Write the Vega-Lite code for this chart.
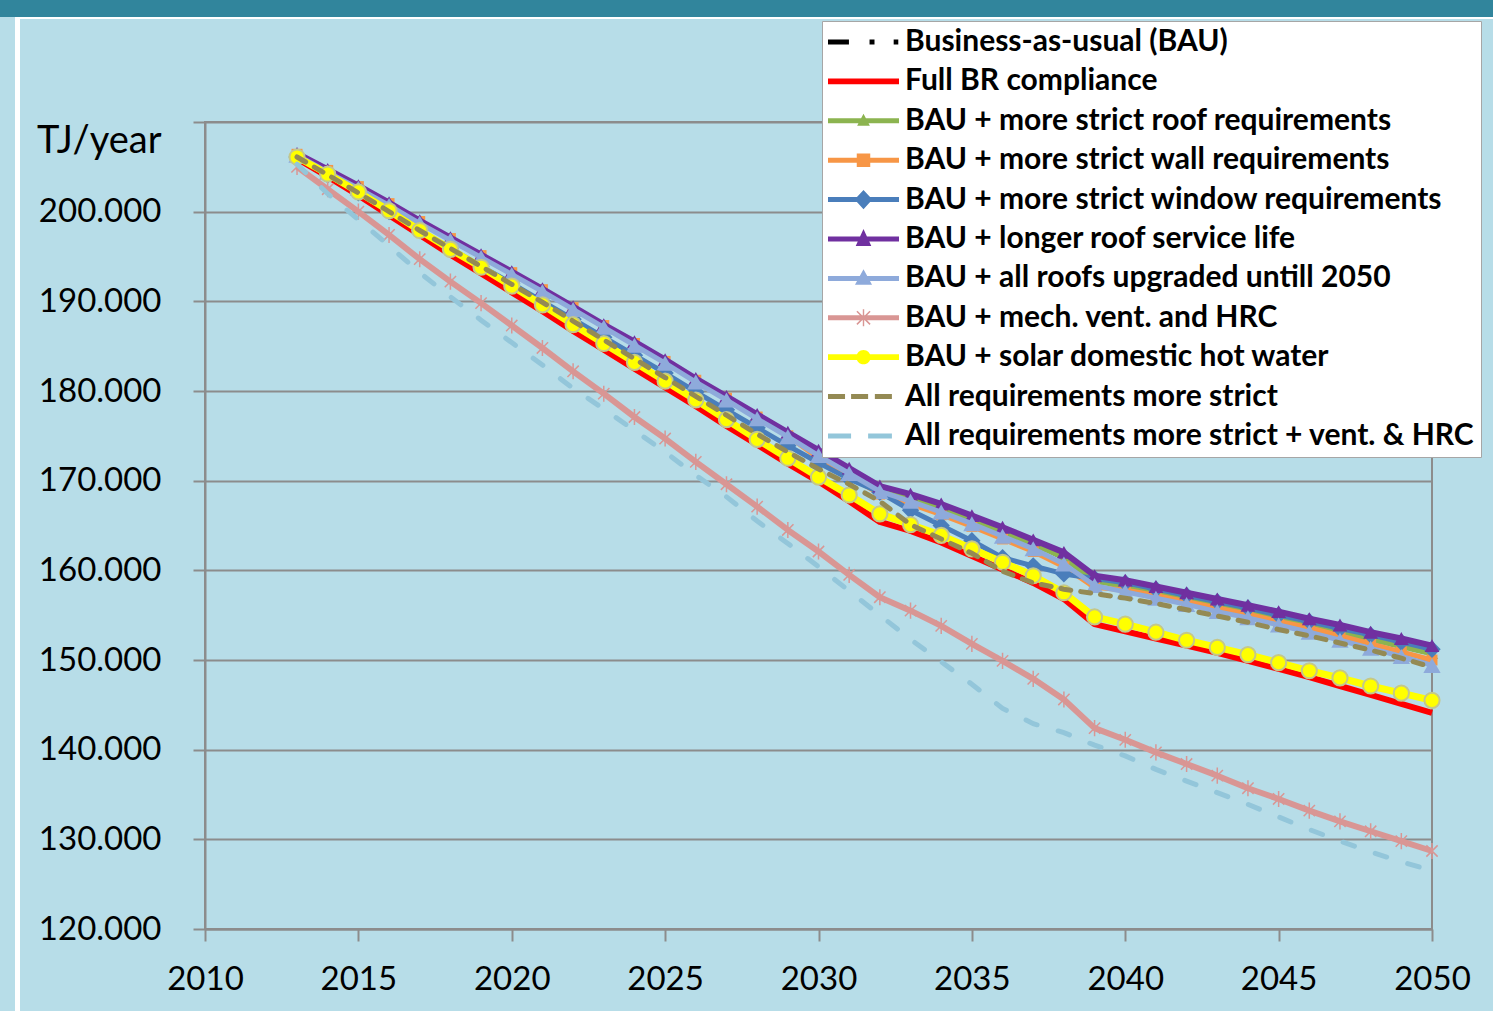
{
  "$schema": "https://vega.github.io/schema/vega-lite/v6.json",
  "background": "#b7dde8",
  "padding": 0,
  "spacing": 0,
  "bounds": "full",
  "resolve": {"scale": {"color": "independent", "fill": "independent", "shape": "independent"}, "legend": {"color": "independent", "fill": "independent", "shape": "independent"}},
  "config": {
    "view": {"stroke": null},
    "locale": {"number": {"decimal": ",", "thousands": ".", "grouping": [3], "currency": ["", " €"]}},
    "font": "Lato",
    "axis": {
      "domainColor": "#8c8c8c", "domainWidth": 2,
      "tickColor": "#8c8c8c", "tickWidth": 2, "tickSize": 12,
      "gridColor": "#8c8c8c", "gridWidth": 2, "gridOpacity": 1,
      "labelFont": "Lato", "labelFontSize": 33, "labelColor": "black", "labelFontWeight": "normal"
    }
  },
  "hconcat": [
    {"width": 15, "height": 1011, "data": {"values": []}, "mark": "point",
     "view": {"stroke": null, "fill": {"gradient": "linear", "x1": 0, "y1": 0, "x2": 0, "y2": 1, "stops": [{"offset": 0, "color": "#31859c"}, {"offset": 0.0168, "color": "#31859c"}, {"offset": 0.0169, "color": "#b7dde8"}, {"offset": 1, "color": "#b7dde8"}]}}},
    {"width": 5, "height": 1011, "data": {"values": []}, "mark": "point",
     "view": {"stroke": null, "fill": {"gradient": "linear", "x1": 0, "y1": 0, "x2": 0, "y2": 1, "stops": [{"offset": 0, "color": "#31859c"}, {"offset": 0.0168, "color": "#31859c"}, {"offset": 0.0169, "color": "#ffffff"}, {"offset": 1, "color": "#ffffff"}]}}},
    {
      "spacing": 0,
      "bounds": "full",
      "resolve": {"scale": {"color": "independent", "fill": "independent", "shape": "independent"}, "legend": {"color": "independent", "fill": "independent", "shape": "independent"}},
      "vconcat": [
        {"width": 1473, "height": 17, "view": {"fill": "#31859c", "stroke": null}, "data": {"values": []}, "mark": "point"},
        {"width": 1473, "height": 2, "view": {"fill": "#ffffff", "stroke": null}, "data": {"values": []}, "mark": "point"},
        {
          "spacing": 0,
          "bounds": "full",
          "resolve": {"scale": {"color": "independent", "fill": "independent", "shape": "independent"}, "legend": {"color": "independent", "fill": "independent", "shape": "independent"}},
          "hconcat": [
            {"width": 15, "height": 10, "data": {"values": []}, "mark": "point"},
            {
              "width": 1227,
              "height": 807,
              "view": {"stroke": "#8c8c8c", "strokeWidth": 2},
              "data": {"values": [
{"s":"BAU","x":2013,"v":206400},{"s":"BAU","x":2014,"v":204500},{"s":"BAU","x":2015,"v":202700},{"s":"BAU","x":2016,"v":200800},{"s":"BAU","x":2017,"v":198800},{"s":"BAU","x":2018,"v":196900},{"s":"BAU","x":2019,"v":195000},{"s":"BAU","x":2020,"v":193100},{"s":"BAU","x":2021,"v":191200},{"s":"BAU","x":2022,"v":189200},{"s":"BAU","x":2023,"v":187200},{"s":"BAU","x":2024,"v":185300},{"s":"BAU","x":2025,"v":183300},{"s":"BAU","x":2026,"v":181200},{"s":"BAU","x":2027,"v":179200},{"s":"BAU","x":2028,"v":177200},{"s":"BAU","x":2029,"v":175100},{"s":"BAU","x":2030,"v":173100},{"s":"BAU","x":2031,"v":171100},{"s":"BAU","x":2032,"v":169100},{"s":"BAU","x":2033,"v":168100},{"s":"BAU","x":2034,"v":166900},{"s":"BAU","x":2035,"v":165600},{"s":"BAU","x":2036,"v":164300},{"s":"BAU","x":2037,"v":162900},{"s":"BAU","x":2038,"v":161400},{"s":"BAU","x":2039,"v":158800},{"s":"BAU","x":2040,"v":158200},{"s":"BAU","x":2041,"v":157500},{"s":"BAU","x":2042,"v":156800},{"s":"BAU","x":2043,"v":156100},{"s":"BAU","x":2044,"v":155400},{"s":"BAU","x":2045,"v":154600},{"s":"BAU","x":2046,"v":153900},{"s":"BAU","x":2047,"v":153100},{"s":"BAU","x":2048,"v":152300},{"s":"BAU","x":2049,"v":151500},{"s":"BAU","x":2050,"v":150700},
{"s":"R","x":2013,"v":205900},{"s":"R","x":2014,"v":203900},{"s":"R","x":2015,"v":201800},{"s":"R","x":2016,"v":199600},{"s":"R","x":2017,"v":197400},{"s":"R","x":2018,"v":195200},{"s":"R","x":2019,"v":193100},{"s":"R","x":2020,"v":191000},{"s":"R","x":2021,"v":188900},{"s":"R","x":2022,"v":186700},{"s":"R","x":2023,"v":184600},{"s":"R","x":2024,"v":182500},{"s":"R","x":2025,"v":180400},{"s":"R","x":2026,"v":178300},{"s":"R","x":2027,"v":176100},{"s":"R","x":2028,"v":174000},{"s":"R","x":2029,"v":171900},{"s":"R","x":2030,"v":169900},{"s":"R","x":2031,"v":167700},{"s":"R","x":2032,"v":165400},{"s":"R","x":2033,"v":164400},{"s":"R","x":2034,"v":163100},{"s":"R","x":2035,"v":161600},{"s":"R","x":2036,"v":160100},{"s":"R","x":2037,"v":158600},{"s":"R","x":2038,"v":156800},{"s":"R","x":2039,"v":154000},{"s":"R","x":2040,"v":153200},{"s":"R","x":2041,"v":152400},{"s":"R","x":2042,"v":151600},{"s":"R","x":2043,"v":150800},{"s":"R","x":2044,"v":149900},{"s":"R","x":2045,"v":149000},{"s":"R","x":2046,"v":148100},{"s":"R","x":2047,"v":147100},{"s":"R","x":2048,"v":146100},{"s":"R","x":2049,"v":145100},{"s":"R","x":2050,"v":144100},
{"s":"RF","x":2013,"v":206400},{"s":"RF","x":2014,"v":204500},{"s":"RF","x":2015,"v":202700},{"s":"RF","x":2016,"v":200800},{"s":"RF","x":2017,"v":198800},{"s":"RF","x":2018,"v":196900},{"s":"RF","x":2019,"v":195000},{"s":"RF","x":2020,"v":193100},{"s":"RF","x":2021,"v":191200},{"s":"RF","x":2022,"v":189200},{"s":"RF","x":2023,"v":187200},{"s":"RF","x":2024,"v":185300},{"s":"RF","x":2025,"v":183300},{"s":"RF","x":2026,"v":181200},{"s":"RF","x":2027,"v":179200},{"s":"RF","x":2028,"v":177200},{"s":"RF","x":2029,"v":175100},{"s":"RF","x":2030,"v":173100},{"s":"RF","x":2031,"v":171100},{"s":"RF","x":2032,"v":169100},{"s":"RF","x":2033,"v":168100},{"s":"RF","x":2034,"v":166900},{"s":"RF","x":2035,"v":165600},{"s":"RF","x":2036,"v":164300},{"s":"RF","x":2037,"v":162900},{"s":"RF","x":2038,"v":161400},{"s":"RF","x":2039,"v":158800},{"s":"RF","x":2040,"v":158200},{"s":"RF","x":2041,"v":157500},{"s":"RF","x":2042,"v":156800},{"s":"RF","x":2043,"v":156100},{"s":"RF","x":2044,"v":155400},{"s":"RF","x":2045,"v":154600},{"s":"RF","x":2046,"v":153900},{"s":"RF","x":2047,"v":153100},{"s":"RF","x":2048,"v":152300},{"s":"RF","x":2049,"v":151500},{"s":"RF","x":2050,"v":150700},
{"s":"W","x":2013,"v":206400},{"s":"W","x":2014,"v":204600},{"s":"W","x":2015,"v":202800},{"s":"W","x":2016,"v":200900},{"s":"W","x":2017,"v":198900},{"s":"W","x":2018,"v":197000},{"s":"W","x":2019,"v":195100},{"s":"W","x":2020,"v":193200},{"s":"W","x":2021,"v":191300},{"s":"W","x":2022,"v":189300},{"s":"W","x":2023,"v":187300},{"s":"W","x":2024,"v":185300},{"s":"W","x":2025,"v":183300},{"s":"W","x":2026,"v":181200},{"s":"W","x":2027,"v":179200},{"s":"W","x":2028,"v":177100},{"s":"W","x":2029,"v":175000},{"s":"W","x":2030,"v":172500},{"s":"W","x":2031,"v":170500},{"s":"W","x":2032,"v":168500},{"s":"W","x":2033,"v":167400},{"s":"W","x":2034,"v":166200},{"s":"W","x":2035,"v":164900},{"s":"W","x":2036,"v":163500},{"s":"W","x":2037,"v":162100},{"s":"W","x":2038,"v":160400},{"s":"W","x":2039,"v":158100},{"s":"W","x":2040,"v":157800},{"s":"W","x":2041,"v":157200},{"s":"W","x":2042,"v":156500},{"s":"W","x":2043,"v":155800},{"s":"W","x":2044,"v":155100},{"s":"W","x":2045,"v":154300},{"s":"W","x":2046,"v":153600},{"s":"W","x":2047,"v":152700},{"s":"W","x":2048,"v":151800},{"s":"W","x":2049,"v":150900},{"s":"W","x":2050,"v":150000},
{"s":"WI","x":2013,"v":206100},{"s":"WI","x":2014,"v":204100},{"s":"WI","x":2015,"v":202100},{"s":"WI","x":2016,"v":200000},{"s":"WI","x":2017,"v":197900},{"s":"WI","x":2018,"v":195900},{"s":"WI","x":2019,"v":193900},{"s":"WI","x":2020,"v":192000},{"s":"WI","x":2021,"v":190000},{"s":"WI","x":2022,"v":188000},{"s":"WI","x":2023,"v":186000},{"s":"WI","x":2024,"v":184000},{"s":"WI","x":2025,"v":182000},{"s":"WI","x":2026,"v":179900},{"s":"WI","x":2027,"v":177900},{"s":"WI","x":2028,"v":175900},{"s":"WI","x":2029,"v":173900},{"s":"WI","x":2030,"v":172000},{"s":"WI","x":2031,"v":170200},{"s":"WI","x":2032,"v":168700},{"s":"WI","x":2033,"v":166700},{"s":"WI","x":2034,"v":165000},{"s":"WI","x":2035,"v":163300},{"s":"WI","x":2036,"v":161400},{"s":"WI","x":2037,"v":160500},{"s":"WI","x":2038,"v":159600},{"s":"WI","x":2039,"v":159100},{"s":"WI","x":2040,"v":158600},{"s":"WI","x":2041,"v":157900},{"s":"WI","x":2042,"v":157200},{"s":"WI","x":2043,"v":156500},{"s":"WI","x":2044,"v":155800},{"s":"WI","x":2045,"v":155000},{"s":"WI","x":2046,"v":154300},{"s":"WI","x":2047,"v":153500},{"s":"WI","x":2048,"v":152800},{"s":"WI","x":2049,"v":152000},{"s":"WI","x":2050,"v":151200},
{"s":"P","x":2013,"v":206500},{"s":"P","x":2014,"v":204700},{"s":"P","x":2015,"v":202900},{"s":"P","x":2016,"v":201000},{"s":"P","x":2017,"v":199000},{"s":"P","x":2018,"v":197100},{"s":"P","x":2019,"v":195200},{"s":"P","x":2020,"v":193300},{"s":"P","x":2021,"v":191400},{"s":"P","x":2022,"v":189400},{"s":"P","x":2023,"v":187400},{"s":"P","x":2024,"v":185500},{"s":"P","x":2025,"v":183500},{"s":"P","x":2026,"v":181400},{"s":"P","x":2027,"v":179400},{"s":"P","x":2028,"v":177400},{"s":"P","x":2029,"v":175400},{"s":"P","x":2030,"v":173400},{"s":"P","x":2031,"v":171400},{"s":"P","x":2032,"v":169400},{"s":"P","x":2033,"v":168500},{"s":"P","x":2034,"v":167400},{"s":"P","x":2035,"v":166100},{"s":"P","x":2036,"v":164800},{"s":"P","x":2037,"v":163400},{"s":"P","x":2038,"v":162000},{"s":"P","x":2039,"v":159400},{"s":"P","x":2040,"v":158900},{"s":"P","x":2041,"v":158200},{"s":"P","x":2042,"v":157500},{"s":"P","x":2043,"v":156800},{"s":"P","x":2044,"v":156100},{"s":"P","x":2045,"v":155400},{"s":"P","x":2046,"v":154600},{"s":"P","x":2047,"v":153900},{"s":"P","x":2048,"v":153100},{"s":"P","x":2049,"v":152400},{"s":"P","x":2050,"v":151600},
{"s":"GB","x":2013,"v":206300},{"s":"GB","x":2014,"v":204400},{"s":"GB","x":2015,"v":202600},{"s":"GB","x":2016,"v":200700},{"s":"GB","x":2017,"v":198700},{"s":"GB","x":2018,"v":196800},{"s":"GB","x":2019,"v":194900},{"s":"GB","x":2020,"v":193000},{"s":"GB","x":2021,"v":191100},{"s":"GB","x":2022,"v":189100},{"s":"GB","x":2023,"v":187100},{"s":"GB","x":2024,"v":185100},{"s":"GB","x":2025,"v":183100},{"s":"GB","x":2026,"v":181000},{"s":"GB","x":2027,"v":179000},{"s":"GB","x":2028,"v":176900},{"s":"GB","x":2029,"v":174900},{"s":"GB","x":2030,"v":172800},{"s":"GB","x":2031,"v":170800},{"s":"GB","x":2032,"v":168800},{"s":"GB","x":2033,"v":167700},{"s":"GB","x":2034,"v":166500},{"s":"GB","x":2035,"v":165200},{"s":"GB","x":2036,"v":163800},{"s":"GB","x":2037,"v":162400},{"s":"GB","x":2038,"v":160700},{"s":"GB","x":2039,"v":158300},{"s":"GB","x":2040,"v":157600},{"s":"GB","x":2041,"v":156900},{"s":"GB","x":2042,"v":156200},{"s":"GB","x":2043,"v":155400},{"s":"GB","x":2044,"v":154700},{"s":"GB","x":2045,"v":153900},{"s":"GB","x":2046,"v":153100},{"s":"GB","x":2047,"v":152200},{"s":"GB","x":2048,"v":151300},{"s":"GB","x":2049,"v":150400},{"s":"GB","x":2050,"v":149400},
{"s":"M","x":2013,"v":205000},{"s":"M","x":2014,"v":202500},{"s":"M","x":2015,"v":200000},{"s":"M","x":2016,"v":197400},{"s":"M","x":2017,"v":194700},{"s":"M","x":2018,"v":192200},{"s":"M","x":2019,"v":189800},{"s":"M","x":2020,"v":187300},{"s":"M","x":2021,"v":184800},{"s":"M","x":2022,"v":182200},{"s":"M","x":2023,"v":179700},{"s":"M","x":2024,"v":177100},{"s":"M","x":2025,"v":174700},{"s":"M","x":2026,"v":172100},{"s":"M","x":2027,"v":169600},{"s":"M","x":2028,"v":167100},{"s":"M","x":2029,"v":164500},{"s":"M","x":2030,"v":162100},{"s":"M","x":2031,"v":159500},{"s":"M","x":2032,"v":157000},{"s":"M","x":2033,"v":155500},{"s":"M","x":2034,"v":153800},{"s":"M","x":2035,"v":151800},{"s":"M","x":2036,"v":149900},{"s":"M","x":2037,"v":147900},{"s":"M","x":2038,"v":145600},{"s":"M","x":2039,"v":142400},{"s":"M","x":2040,"v":141100},{"s":"M","x":2041,"v":139700},{"s":"M","x":2042,"v":138400},{"s":"M","x":2043,"v":137100},{"s":"M","x":2044,"v":135700},{"s":"M","x":2045,"v":134500},{"s":"M","x":2046,"v":133200},{"s":"M","x":2047,"v":132000},{"s":"M","x":2048,"v":130900},{"s":"M","x":2049,"v":129800},{"s":"M","x":2050,"v":128700},
{"s":"Y","x":2013,"v":206100},{"s":"Y","x":2014,"v":204200},{"s":"Y","x":2015,"v":202200},{"s":"Y","x":2016,"v":200100},{"s":"Y","x":2017,"v":197900},{"s":"Y","x":2018,"v":195800},{"s":"Y","x":2019,"v":193800},{"s":"Y","x":2020,"v":191700},{"s":"Y","x":2021,"v":189600},{"s":"Y","x":2022,"v":187400},{"s":"Y","x":2023,"v":185300},{"s":"Y","x":2024,"v":183200},{"s":"Y","x":2025,"v":181100},{"s":"Y","x":2026,"v":179000},{"s":"Y","x":2027,"v":176800},{"s":"Y","x":2028,"v":174600},{"s":"Y","x":2029,"v":172500},{"s":"Y","x":2030,"v":170400},{"s":"Y","x":2031,"v":168400},{"s":"Y","x":2032,"v":166300},{"s":"Y","x":2033,"v":165100},{"s":"Y","x":2034,"v":163900},{"s":"Y","x":2035,"v":162400},{"s":"Y","x":2036,"v":160900},{"s":"Y","x":2037,"v":159400},{"s":"Y","x":2038,"v":157500},{"s":"Y","x":2039,"v":154800},{"s":"Y","x":2040,"v":154000},{"s":"Y","x":2041,"v":153100},{"s":"Y","x":2042,"v":152200},{"s":"Y","x":2043,"v":151400},{"s":"Y","x":2044,"v":150600},{"s":"Y","x":2045,"v":149700},{"s":"Y","x":2046,"v":148800},{"s":"Y","x":2047,"v":148000},{"s":"Y","x":2048,"v":147100},{"s":"Y","x":2049,"v":146300},{"s":"Y","x":2050,"v":145500},
{"s":"O","x":2013,"v":206100},{"s":"O","x":2014,"v":204100},{"s":"O","x":2015,"v":202100},{"s":"O","x":2016,"v":200000},{"s":"O","x":2017,"v":197900},{"s":"O","x":2018,"v":195900},{"s":"O","x":2019,"v":193900},{"s":"O","x":2020,"v":191900},{"s":"O","x":2021,"v":189900},{"s":"O","x":2022,"v":187800},{"s":"O","x":2023,"v":185700},{"s":"O","x":2024,"v":183600},{"s":"O","x":2025,"v":181500},{"s":"O","x":2026,"v":179400},{"s":"O","x":2027,"v":177300},{"s":"O","x":2028,"v":175200},{"s":"O","x":2029,"v":173200},{"s":"O","x":2030,"v":171300},{"s":"O","x":2031,"v":169600},{"s":"O","x":2032,"v":167700},{"s":"O","x":2033,"v":165100},{"s":"O","x":2034,"v":163500},{"s":"O","x":2035,"v":161900},{"s":"O","x":2036,"v":159900},{"s":"O","x":2037,"v":158600},{"s":"O","x":2038,"v":157900},{"s":"O","x":2039,"v":157400},{"s":"O","x":2040,"v":156900},{"s":"O","x":2041,"v":156300},{"s":"O","x":2042,"v":155600},{"s":"O","x":2043,"v":154900},{"s":"O","x":2044,"v":154200},{"s":"O","x":2045,"v":153400},{"s":"O","x":2046,"v":152700},{"s":"O","x":2047,"v":151900},{"s":"O","x":2048,"v":151100},{"s":"O","x":2049,"v":150200},{"s":"O","x":2050,"v":149200},
{"s":"L","x":2013,"v":205300},{"s":"L","x":2014,"v":202000},{"s":"L","x":2015,"v":199100},{"s":"L","x":2016,"v":196200},{"s":"L","x":2017,"v":193200},{"s":"L","x":2018,"v":190500},{"s":"L","x":2019,"v":187900},{"s":"L","x":2020,"v":185400},{"s":"L","x":2021,"v":182900},{"s":"L","x":2022,"v":180300},{"s":"L","x":2023,"v":178000},{"s":"L","x":2024,"v":175600},{"s":"L","x":2025,"v":173200},{"s":"L","x":2026,"v":170600},{"s":"L","x":2027,"v":168200},{"s":"L","x":2028,"v":165500},{"s":"L","x":2029,"v":163000},{"s":"L","x":2030,"v":160400},{"s":"L","x":2031,"v":157700},{"s":"L","x":2032,"v":155000},{"s":"L","x":2033,"v":152300},{"s":"L","x":2034,"v":149800},{"s":"L","x":2035,"v":147300},{"s":"L","x":2036,"v":144600},{"s":"L","x":2037,"v":142900},{"s":"L","x":2038,"v":141900},{"s":"L","x":2039,"v":140500},{"s":"L","x":2040,"v":139300},{"s":"L","x":2041,"v":137800},{"s":"L","x":2042,"v":136500},{"s":"L","x":2043,"v":135200},{"s":"L","x":2044,"v":133900},{"s":"L","x":2045,"v":132500},{"s":"L","x":2046,"v":131100},{"s":"L","x":2047,"v":129800},{"s":"L","x":2048,"v":128600},{"s":"L","x":2049,"v":127500},{"s":"L","x":2050,"v":126500}
              ]},
              "transform": [
                {"lookup": "s", "from": {"data": {"values": [
                  {"s": "BAU", "name": "Business-as-usual (BAU)"},
                  {"s": "R", "name": "Full BR compliance"},
                  {"s": "RF", "name": "BAU + more strict roof requirements"},
                  {"s": "W", "name": "BAU + more strict wall requirements"},
                  {"s": "WI", "name": "BAU + more strict window requirements"},
                  {"s": "P", "name": "BAU + longer roof service life"},
                  {"s": "GB", "name": "BAU + all roofs upgraded untill 2050"},
                  {"s": "M", "name": "BAU + mech. vent. and HRC"},
                  {"s": "Y", "name": "BAU + solar domestic hot water"},
                  {"s": "O", "name": "All requirements more strict"},
                  {"s": "L", "name": "All requirements more strict + vent. & HRC"}
                ]}, "key": "s", "fields": ["name"]}}
              ],
              "encoding": {
                "x": {"field": "x", "type": "quantitative",
                  "scale": {"domain": [2010, 2050], "nice": false, "zero": false},
                  "axis": {"values": [2010, 2015, 2020, 2025, 2030, 2035, 2040, 2045, 2050], "format": "d", "grid": false, "title": null, "labelPadding": 22, "labelFlush": false, "labelOverlap": false}},
                "y": {"field": "v", "type": "quantitative",
                  "scale": {"domain": [120000, 210000], "nice": false, "zero": false},
                  "axis": {"values": [120000, 130000, 140000, 150000, 160000, 170000, 180000, 190000, 200000, 210000],
                    "format": ",.0f", "labelExpr": "datum.value >= 210000 ? '' : datum.label",
                    "grid": true, "labelPadding": 32, "labelFlush": false,
                    "title": "TJ/year", "titleAngle": 0, "titleAlign": "right", "titleBaseline": "alphabetic",
                    "titleX": -44, "titleY": 30, "titleFont": "Lato", "titleFontSize": 38, "titleFontWeight": "normal", "titleColor": "black"}},
                "color": {"field": "s", "type": "nominal",
                  "scale": {
                    "domain": ["BAU", "R", "RF", "W", "WI", "P", "GB", "M", "Y", "O", "L"],
                    "range": ["#000000", "#ff0000", "#8cb450", "#f79646", "#4a7ebb", "#7030a0", "#8eaadb", "#d99694", "#ffff00", "#948a54", "#93c6da"]},
                  "legend": null}
              },
              "layer": [
                {"transform": [{"filter": "datum.s == 'BAU'"}], "mark": {"type": "line", "strokeWidth": 4, "strokeDash": [14, 8, 3, 8, 3, 8]}},
                {"transform": [{"filter": "datum.s == 'R'"}], "mark": {"type": "line", "strokeWidth": 6, "strokeJoin": "round"}},
                {"transform": [{"filter": "datum.s == 'RF'"}], "mark": {"type": "line", "strokeWidth": 5, "strokeJoin": "round", "point": {"shape": "triangle-up", "size": 150, "filled": true, "opacity": 1}}},
                {"transform": [{"filter": "datum.s == 'W'"}], "mark": {"type": "line", "strokeWidth": 5, "strokeJoin": "round", "point": {"shape": "square", "size": 120, "filled": true, "opacity": 1}}},
                {"transform": [{"filter": "datum.s == 'WI'"}], "mark": {"type": "line", "strokeWidth": 5, "strokeJoin": "round", "point": {"shape": "diamond", "size": 300, "filled": true, "opacity": 1}}},
                {"transform": [{"filter": "datum.s == 'P'"}], "mark": {"type": "line", "strokeWidth": 6, "strokeJoin": "round", "point": {"shape": "triangle-up", "size": 220, "filled": true, "opacity": 1}}},
                {"transform": [{"filter": "datum.s == 'GB'"}], "mark": {"type": "line", "strokeWidth": 5, "strokeJoin": "round", "point": {"shape": "triangle-up", "size": 300, "filled": true, "opacity": 1}}},
                {"transform": [{"filter": "datum.s == 'M'"}], "mark": {"type": "line", "strokeWidth": 6, "strokeJoin": "round", "point": {"shape": "M0,-1V1M-0.7,-0.7L0.7,0.7M-0.7,0.7L0.7,-0.7", "size": 260, "filled": false, "strokeWidth": 1.5, "opacity": 1}}},
                {"transform": [{"filter": "datum.s == 'Y'"}], "mark": {"type": "line", "strokeWidth": 7, "strokeJoin": "round", "point": {"shape": "circle", "size": 230, "filled": true, "stroke": "#c4c88a", "strokeWidth": 2, "opacity": 1}}},
                {"transform": [{"filter": "datum.s == 'O'"}], "mark": {"type": "line", "strokeWidth": 5, "strokeCap": "round", "strokeDash": [10, 10]}},
                {"transform": [{"filter": "datum.s == 'L'"}], "mark": {"type": "line", "strokeWidth": 5, "strokeCap": "round", "strokeDash": [12, 22]}},
                {
                  "transform": [{"filter": "false"}],
                  "mark": {"type": "point", "filled": true, "opacity": 1, "strokeWidth": 0},
                  "encoding": {
                    "color": {"field": "name", "type": "nominal",
                      "scale": {
                        "domain": ["Business-as-usual (BAU)", "Full BR compliance", "BAU + more strict roof requirements", "BAU + more strict wall requirements", "BAU + more strict window requirements", "BAU + longer roof service life", "BAU + all roofs upgraded untill 2050", "BAU + mech. vent. and HRC", "BAU + solar domestic hot water", "All requirements more strict", "All requirements more strict + vent. & HRC"],
                        "range": ["#000000", "#ff0000", "#8cb450", "#f79646", "#4a7ebb", "#7030a0", "#8eaadb", "#d99694", "#ffff00", "#948a54", "#93c6da"]},
                      "legend": null},
                    "fill": {"field": "name", "type": "nominal",
                      "scale": {
                        "domain": ["Business-as-usual (BAU)", "Full BR compliance", "BAU + more strict roof requirements", "BAU + more strict wall requirements", "BAU + more strict window requirements", "BAU + longer roof service life", "BAU + all roofs upgraded untill 2050", "BAU + mech. vent. and HRC", "BAU + solar domestic hot water", "All requirements more strict", "All requirements more strict + vent. & HRC"],
                        "range": ["#000000", "#ff0000", "#8cb450", "#f79646", "#4a7ebb", "#7030a0", "#8eaadb", "#d99694", "#ffff00", "#948a54", "#93c6da"]},
                      "legend": {"title": null, "orient": "none", "legendX": 617, "legendY": -101,
                        "fillColor": "#ffffff", "strokeColor": "#a6a6a6", "padding": 6, "rowPadding": 9.4, "clipHeight": 30,
                        "symbolSize": 5041, "symbolStrokeWidth": 0, "symbolOpacity": 1, "symbolOffset": 0,
                        "labelFont": "Lato", "labelFontSize": 30, "labelFontWeight": "bold", "labelColor": "black", "labelLimit": 800, "labelOffset": 6}},
                    "shape": {"field": "name", "type": "nominal",
                      "scale": {
                        "domain": ["Business-as-usual (BAU)", "Full BR compliance", "BAU + more strict roof requirements", "BAU + more strict wall requirements", "BAU + more strict window requirements", "BAU + longer roof service life", "BAU + all roofs upgraded untill 2050", "BAU + mech. vent. and HRC", "BAU + solar domestic hot water", "All requirements more strict", "All requirements more strict + vent. & HRC"],
                        "range": [
                          "M-1,-0.07H-0.41V0.07H-1Z M0.17,-0.07H0.31V0.07H0.17Z M0.85,-0.07H0.98V0.07H0.85Z",
                          "M-1,-0.08H1V0.08H-1Z",
                          "M-1,-0.07H1V0.07H-1Z M0,-0.2L0.18,0.14H-0.18Z",
                          "M-1,-0.07H1V0.07H-1Z M-0.19,-0.19H0.19V0.19H-0.19Z",
                          "M-1,-0.07H1V0.07H-1Z M0,-0.27L0.25,0L0,0.27L-0.25,0Z",
                          "M-1,-0.07H1V0.07H-1Z M0,-0.28L0.22,0.2H-0.22Z",
                          "M-1,-0.07H1V0.07H-1Z M0,-0.26L0.24,0.18H-0.24Z",
                          "M-1,-0.07H1V0.07H-1Z M-0.02,-0.24H0.02V0.24H-0.02Z M-0.2,-0.17L-0.17,-0.2L0.2,0.17L0.17,0.2Z M-0.2,0.17L0.17,-0.2L0.2,-0.17L-0.17,0.2Z",
                          "M-1,-0.08H1V0.08H-1Z M-0.2,0A0.2,0.2 0 1,1 0.2,0A0.2,0.2 0 1,1 -0.2,0Z",
                          "M-1,-0.07H-0.52V0.07H-1Z M-0.35,-0.07H0.13V0.07H-0.35Z M0.32,-0.07H0.8V0.07H0.32Z",
                          "M-1,-0.07H-0.35V0.07H-1Z M0.13,-0.07H0.8V0.07H0.13Z"
                        ]},
                      "legend": {"title": null}}
                  }
                }
              ]
            }
          ]
        }
      ]
    }
  ]
}
